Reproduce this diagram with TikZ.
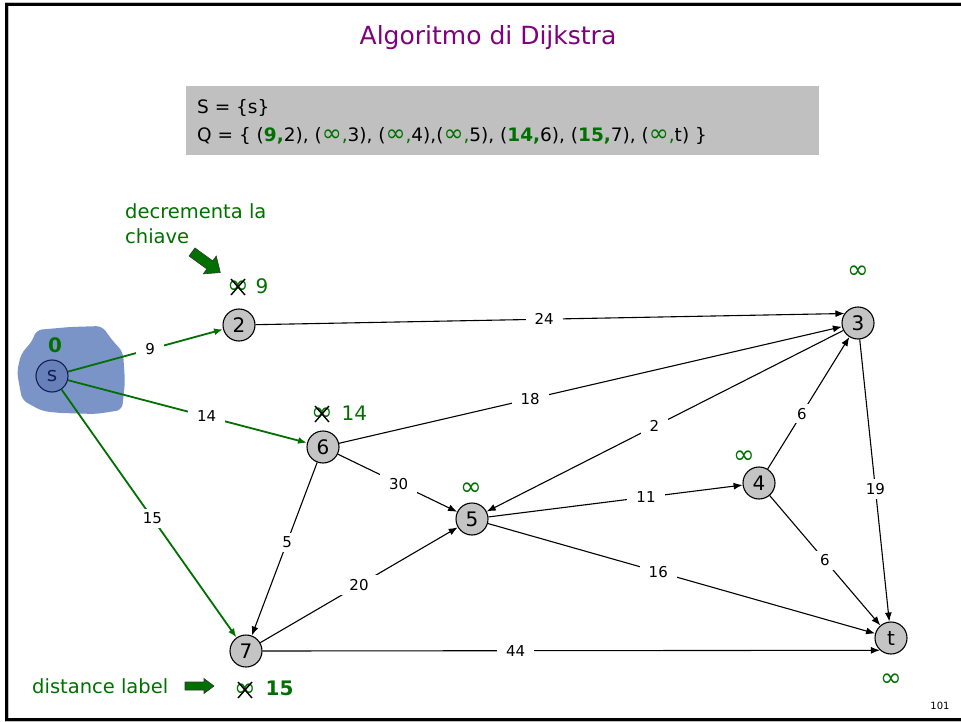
\documentclass[tikz,border=0pt]{standalone}
\usepackage{fontspec}
\setmainfont{DejaVu Sans}
\usetikzlibrary{arrows.meta,calc}
\definecolor{dgreen}{RGB}{0,112,0}
\definecolor{blobblue}{RGB}{123,148,200}
\definecolor{sfill}{RGB}{104,128,186}
\definecolor{navy}{RGB}{20,30,80}
\definecolor{boxgray}{RGB}{192,192,192}
\definecolor{nodegray}{RGB}{196,196,196}
\definecolor{titlepurple}{RGB}{128,0,128}
\newcommand{\grb}[1]{\textcolor{dgreen}{\textbf{#1}}}
\newcommand{\grinf}{\textcolor{dgreen}{{\fontsize{24}{18}\selectfont ∞},}}
\begin{document}
\begin{tikzpicture}[x=1pt,y=-1pt,
  vert/.style={circle,draw=black,line width=1.1pt,fill=nodegray,minimum size=32pt,inner sep=0pt,font=\fontsize{20}{20}\selectfont},
  edge/.style={line width=1.1pt,-{Latex[length=9pt,width=7pt]}},
  gedge/.style={line width=1.8pt,draw=dgreen,-{Latex[length=9pt,width=7pt]},dgreen},
  lab/.style={fill=white,inner xsep=9pt,inner ysep=4pt,font=\fontsize{15}{16}\selectfont,text=black},
  dist/.style={text=dgreen,inner sep=0.5pt,font=\fontsize{26}{20}\selectfont},
  num/.style={text=dgreen,inner sep=0.5pt,font=\fontsize{20}{20}\selectfont},
  xline/.style={line width=1.4pt,black},
  gtext/.style={text=dgreen,font=\fontsize{19.5}{25}\selectfont,inner sep=0pt},
  barrow/.style={fill=dgreen,draw=black!80,line width=0.6pt,line join=miter}
]
\useasboundingbox (0,0) rectangle (961,722);
% frame
\draw[line width=4pt,black!25] (961,4.5) -- (6.5,4.5) -- (6.5,719.5) -- (961,719.5);
\draw[line width=2.2pt,black] (961,4.5) -- (6.5,4.5) -- (6.5,719.5) -- (961,719.5);

% title
\node[text=titlepurple,font=\fontsize{25}{27}\selectfont] (title) at (488,38) {Algoritmo di Dijkstra};

% grey box
\fill[boxgray] (186,86) rectangle (819,155);
\node[anchor=west,inner sep=0pt,font=\fontsize{18.5}{20}\selectfont] (sset) at (197,108) {S = \{s\}};
\node[anchor=west,inner sep=0pt,font=\fontsize{18.5}{20}\selectfont] (qset) at (197,136)
  {Q = \{ (\grb{9,}2), (\grinf3), (\grinf4),(\grinf5), (\grb{14,}6), (\grb{15,}7), (\grinf t) \}};

% blob around s
\fill[blobblue,rounded corners=6pt] (36,330) -- (70,327) -- (102,326) -- (112,340) -- (123,352) -- (125,382) -- (122,410) -- (96,414) -- (60,413) -- (42,411) -- (22,400) -- (17,372) -- (21,354) -- (33,340) -- cycle;

% vertices
\node[vert,fill=sfill,draw=navy,text=navy] (s) at (52,376) {s};
\node[vert] (v2) at (239,325) {2};
\node[vert] (v3) at (858,323) {3};
\node[vert] (v6) at (323,447) {6};
\node[vert] (v4) at (759,483) {4};
\node[vert] (v5) at (472,519) {5};
\node[vert] (v7) at (246,651) {7};
\node[vert] (vt) at (891,638) {t};

% green edges
\draw[gedge] (s) -- node[lab,pos=0.53] {9} (v2);
\draw[gedge] (s) -- node[lab,pos=0.58] {14} (v6);
\draw[gedge] (s) -- node[lab,pos=0.52] {15} (v7);

% black edges
\draw[edge] (v2) -- node[lab,pos=0.49] {24} (v3.145);
\draw[edge] (v6) -- node[lab,pos=0.38] {18} (v3);
\draw[edge] (v3) -- node[lab,pos=0.53] {2} (v5);
\draw[edge] (v5) -- node[lab,pos=0.62] {11} (v4);
\draw[edge] (v4) -- node[lab,pos=0.42] {6} (v3);
\draw[edge] (v3) -- node[lab,pos=0.53] {19} (vt);
\draw[edge] (v4) -- node[lab,pos=0.5] {6} (vt);
\draw[edge] (v5) -- node[lab,pos=0.44] {16} (vt);
\draw[edge] (v7.east) -- node[lab,pos=0.41] {44} (vt.-132);
\draw[edge] (v7) -- node[lab,pos=0.5] {20} (v5);
\draw[edge] (v6) -- node[lab,pos=0.46] {5} (v7);
\draw[edge] (v6) -- node[lab,pos=0.51] {30} (v5);

% distance labels
\node[text=dgreen,font=\fontsize{20}{20}\selectfont\bfseries] (d0) at (55,345) {0};
\node[dist] (d2) at (238,287) {∞};
\draw[xline] ($(d2.center)+(-7,-8)$) -- ($(d2.center)+(7,8)$);
\draw[xline] ($(d2.center)+(-7,8)$) -- ($(d2.center)+(7,-8)$);
\node[num,anchor=west] (n2) at (255,286) {9};
\node[dist] (d3) at (858,272) {∞};
\node[dist] (d6) at (322,414) {∞};
\draw[xline] ($(d6.center)+(-7,-8)$) -- ($(d6.center)+(7,8)$);
\draw[xline] ($(d6.center)+(-7,8)$) -- ($(d6.center)+(7,-8)$);
\node[num,anchor=west] (n6) at (341,413) {14};
\node[dist] (d5) at (471,489) {∞};
\node[dist] (d4) at (744,457) {∞};
\node[dist] (d7) at (245,690) {∞};
\draw[xline] ($(d7.center)+(-7,-8)$) -- ($(d7.center)+(7,8)$);
\draw[xline] ($(d7.center)+(-7,8)$) -- ($(d7.center)+(7,-8)$);
\node[num,anchor=west,font=\fontsize{20}{20}\selectfont\bfseries] (n7) at (265,688) {15};
\node[dist] (dt) at (891,680) {∞};

% annotations
\node[gtext,anchor=north west,align=left] (decr) at (125,203) {decrementa la\\chiave};
\begin{scope}[shift={(192,252)},rotate=-36]
  \draw[barrow] (0,-5) -- (22,-5) -- (22,-11) -- (35,0) -- (22,11) -- (22,5) -- (0,5) -- cycle;
\end{scope}
\node[gtext,anchor=west] (dl) at (32,686) {distance label};
\begin{scope}[shift={(185,686)}]
  \draw[barrow] (0,-4) -- (19,-4) -- (19,-7.5) -- (29,0) -- (19,7.5) -- (19,4) -- (0,4) -- cycle;
\end{scope}

% page number
\node[font=\fontsize{10}{10}\selectfont] (pg) at (940,706) {101};
\end{tikzpicture}
\end{document}
